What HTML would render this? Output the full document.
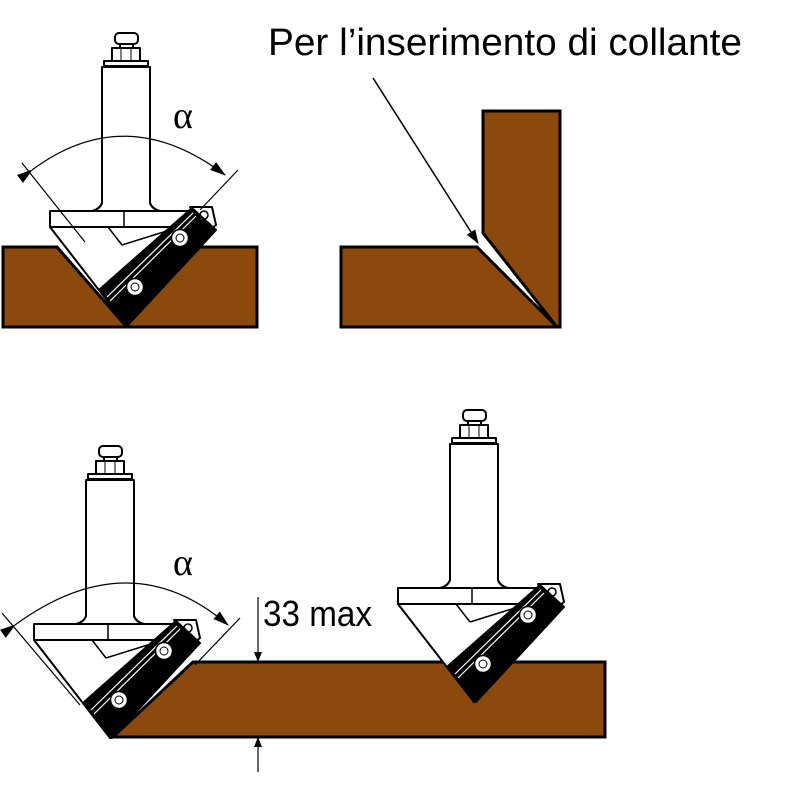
<!DOCTYPE html>
<html><head><meta charset="utf-8"><style>
html,body{margin:0;padding:0;background:#fff;}
svg{display:block}
</style></head><body>
<svg width="800" height="800" viewBox="0 0 800 800" xmlns="http://www.w3.org/2000/svg">
<defs>
<marker id="ah" markerWidth="16" markerHeight="16" refX="15" refY="8" orient="auto" markerUnits="userSpaceOnUse" viewBox="0 0 16 16">
<path d="M0,3 L16,8 L0,13 Z" fill="#000"/></marker>
<marker id="ah2" markerWidth="14" markerHeight="14" refX="13" refY="7" orient="auto" markerUnits="userSpaceOnUse" viewBox="0 0 14 14">
<path d="M0,2 L14,7 L0,12 Z" fill="#000"/></marker>
<marker id="ah3" markerWidth="10" markerHeight="12" refX="9" refY="6" orient="auto" markerUnits="userSpaceOnUse" viewBox="0 0 10 12">
<path d="M0,2 L10,6 L0,10 Z" fill="#000"/></marker>
<g id="tool" stroke="#000" stroke-width="2" stroke-linejoin="round">
  <rect x="-11" y="-292" width="23" height="11" rx="4" fill="#fff"/>
  <rect x="-6" y="-281" width="13" height="4" fill="#fff"/>
  <rect x="-14" y="-277" width="28" height="13" fill="#fff"/>
  <line x1="-5" y1="-277" x2="-5" y2="-264" stroke-width="1"/>
  <line x1="5" y1="-277" x2="5" y2="-264" stroke-width="1"/>
  <rect x="-22" y="-264" width="44" height="5" fill="#fff"/>
  <path d="M-24,-258 L24,-258 L24,-122 Q26,-116 34,-114 L-34,-114 Q-26,-116 -24,-122 Z" fill="#fff"/>
  <path d="M-76,-114 L86,-114 L88,-98 L-76,-98 Z" fill="#fff"/>
  <line x1="-2" y1="-114" x2="-2" y2="-98" stroke-width="1.5"/>
  <path d="M-76,-98 L0,0 L66,-115 L88,-98 Z" fill="#fff"/>
  <path d="M-2,-98 L-18,-98 L-4,-80" fill="none" stroke-width="1.5"/>
  <line x1="-4" y1="-80" x2="60" y2="-100" stroke-width="1.5"/>
  <path d="M64,-118 L86,-118 L90,-100 L80,-92 Z" fill="#fff"/>
  <circle cx="78" cy="-110" r="4" fill="#fff" stroke-width="1.5"/>
  <path d="M-26,-36 L2,0 L90,-95 L66,-117 Z" fill="#000"/>
  <line x1="-19" y1="-28" x2="67" y2="-112" stroke="#fff" stroke-width="1.2"/>
  <line x1="-16" y1="-24" x2="70" y2="-109" stroke="#fff" stroke-width="1.2"/>
  <circle cx="54" cy="-87" r="8.5" fill="#fff" stroke-width="1.5"/>
  <circle cx="54" cy="-87" r="4" fill="none" stroke-width="1"/>
  <circle cx="9" cy="-38" r="8.5" fill="#fff" stroke-width="1.5"/>
  <circle cx="9" cy="-38" r="4" fill="none" stroke-width="1"/>
</g>
</defs>

<path d="M3,247 L57,247 L125,325 L200,247 L257,247 L257,327 L3,327 Z" fill="#8B4A0B" stroke="#000" stroke-width="3"/>
<use href="#tool" x="126" y="325"/>
<path d="M32,170 Q126,100 225,175" fill="none" stroke="#000" stroke-width="1.2" marker-start="url(#ah)" marker-end="url(#ah)"/>
<line x1="22" y1="163" x2="85" y2="242" stroke="#000" stroke-width="1.2"/>
<line x1="238" y1="170" x2="200" y2="210" stroke="#000" stroke-width="1.2"/>
<text x="173" y="128" font-family="Liberation Serif, serif" font-size="38">α</text>

<path d="M341,247 L477,247 L557,327 L341,327 Z" fill="#8B4A0B" stroke="#000" stroke-width="3" stroke-linejoin="miter"/>
<path d="M483,111 L560,111 L560,327 L557,327 L483,233 Z" fill="#8B4A0B" stroke="#000" stroke-width="3" stroke-linejoin="miter"/>
<line x1="373" y1="78" x2="478" y2="243" stroke="#000" stroke-width="1.5" marker-end="url(#ah2)"/>
<text x="268" y="55" font-family="Liberation Sans, sans-serif" font-size="38" textLength="474" lengthAdjust="spacingAndGlyphs">Per l’inserimento di collante</text>

<path d="M193,662 L452,662 L474,701 L510,662 L605,662 L605,737 L113,737 Z" fill="#8B4A0B" stroke="#000" stroke-width="3"/>
<use href="#tool" x="110" y="738"/>
<use href="#tool" x="474" y="702"/>
<path d="M15,625 Q130,541 228,625" fill="none" stroke="#000" stroke-width="1.2" marker-start="url(#ah)" marker-end="url(#ah)"/>
<line x1="2" y1="613" x2="80" y2="705" stroke="#000" stroke-width="1.2"/>
<line x1="240" y1="618" x2="195" y2="665" stroke="#000" stroke-width="1.2"/>
<text x="173" y="575" font-family="Liberation Serif, serif" font-size="38">α</text>
<line x1="258" y1="597" x2="258" y2="661" stroke="#000" stroke-width="1.2" marker-end="url(#ah3)"/>
<line x1="258" y1="772" x2="258" y2="738" stroke="#000" stroke-width="1.2" marker-end="url(#ah3)"/>
<text x="263" y="626" font-family="Liberation Sans, sans-serif" font-size="36" textLength="109" lengthAdjust="spacingAndGlyphs">33 max</text>
</svg>
</body></html>
